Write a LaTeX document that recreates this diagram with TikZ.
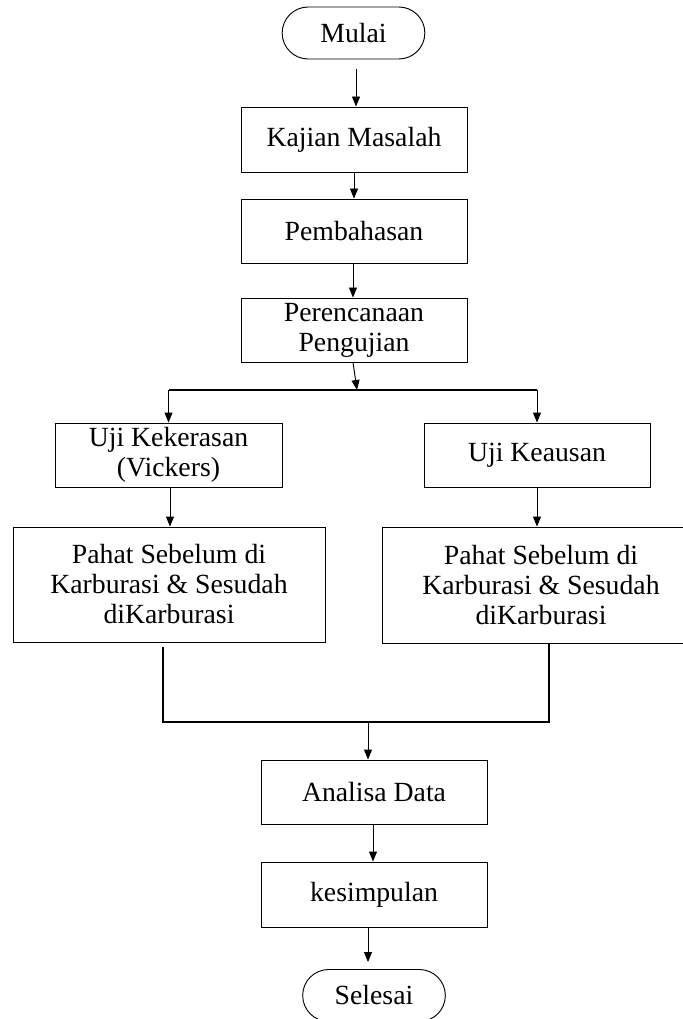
\documentclass[tikz,border=0pt]{standalone}
\usepackage{fontspec}
\setmainfont{Liberation Serif}
\usetikzlibrary{calc}
\usetikzlibrary{arrows.meta}

\begin{document}
\begin{tikzpicture}[x=0.75pt, y=-0.75pt]
            \tikzstyle{kotak} = [draw, line width=0.7pt, rectangle, align=center, inner sep=0pt,
                font=\fontsize{20.8}{22.5}\selectfont]
            \tikzstyle{terminal} = [kotak, rounded corners=19.5pt, minimum width=107pt, minimum height=39pt]
            \tikzstyle{panah} = [line width=0.7pt, -{Triangle[length=7.5pt, width=6pt]}]
            \tikzstyle{garis} = [line width=1.2pt]
            \useasboundingbox (0, 0) rectangle (682, 1019);
            \node[terminal] (mulai) at (353.5, 33) {Mulai};
            \node[kotak, minimum width=169.5pt, minimum height=48.75pt] (kajian) at (354, 139.5) {Kajian Masalah};
            \node[kotak, minimum width=169.5pt, minimum height=48pt] (bahas) at (354, 231) {Pembahasan};
            \node[kotak, minimum width=169.5pt, minimum height=48pt] (rencana) at (354, 330) {Perencanaan\\Pengujian};
            \node[kotak, minimum width=170.25pt, minimum height=48pt] (keras) at (168.5, 455) {Uji Kekerasan\\(Vickers)};
            \node[kotak, minimum width=169.5pt, minimum height=48pt] (aus) at (537, 455) {Uji Keausan};
            \node[kotak, minimum width=234pt, minimum height=86.25pt] (pahatA) at (169, 584.5) {Pahat Sebelum di\\Karburasi \& Sesudah\\diKarburasi};
            \node[kotak, minimum width=238.5pt, minimum height=87pt] (pahatB) at (541, 585) {Pahat Sebelum di\\Karburasi \& Sesudah\\diKarburasi};
            \node[kotak, minimum width=169.5pt, minimum height=48pt] (analisa) at (374, 792) {Analisa Data};
            \node[kotak, minimum width=169.5pt, minimum height=48.75pt] (simpulan) at (374, 894.5) {kesimpulan};
            \node[terminal] (selesai) at (374, 995.5) {Selesai};
            \coordinate (cabang) at (357, 390);
            \coordinate (gabung) at (368, 722);
            \draw[panah] ($(mulai.south) + (2.5, 10)$) -- ($(kajian.north) + (2, 0)$);
            \draw[panah] (kajian) -- (bahas);
            \draw[panah] ($(bahas.south) + (-1, 0)$) -- ($(rencana.north) + (-1, 0)$);
            \draw[panah] ($(rencana.south) + (-1, 0)$) -- (cabang);
            \draw[garis] (cabang) -- (cabang -| keras);
            \draw[garis] (cabang) -- (cabang -| aus);
            \draw[panah] (cabang -| keras) -- (keras);
            \draw[panah] (cabang -| aus) -- (aus);
            \draw[panah] ($(keras.south) + (1.5, 0)$) -- ($(keras.south |- pahatA.north) + (1.5, 0)$);
            \draw[panah] (aus) -- (aus |- pahatB.north);
            \draw[garis] ($(pahatA.south) + (-6, 5)$) |- (gabung);
            \draw[garis] ($(pahatB.south) + (8, 0)$) |- (gabung);
            \draw[panah] (gabung) -- (gabung |- analisa.north);
            \draw[panah] ($(analisa.south) + (-1, 0)$) -- ($(simpulan.north) + (-1, 0)$);
            \draw[panah] ($(simpulan.south) + (-6, 0)$) -- ($(selesai.north) + (-6, -7)$);
        \end{tikzpicture}
\end{document}
